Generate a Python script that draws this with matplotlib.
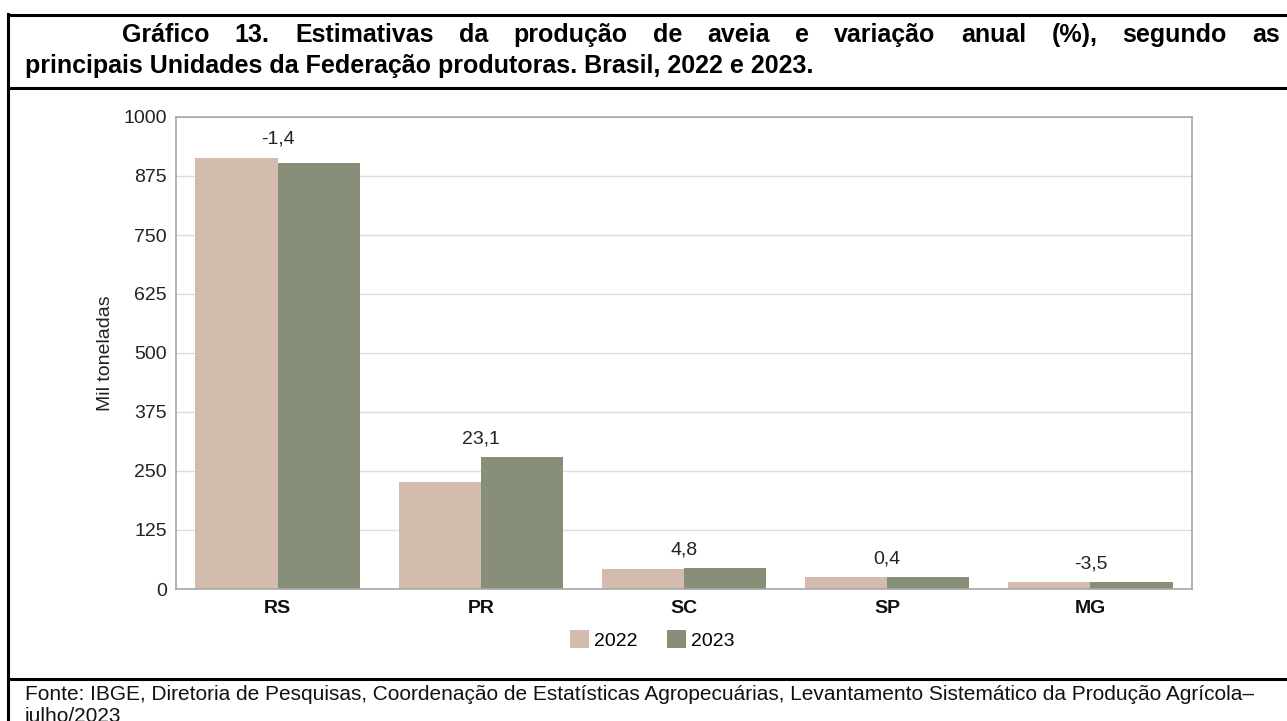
import matplotlib
matplotlib.use("Agg")
import matplotlib.pyplot as plt
from matplotlib.lines import Line2D
import numpy as np

categories = ["RS", "PR", "SC", "SP", "MG"]
prod_2022 = [914, 227, 42, 25, 15]
prod_2023 = [902, 279, 44, 25.1, 14.5]
variation = ["-1,4", "23,1", "4,8", "0,4", "-3,5"]
series_labels = ["2022", "2023"]
yticks = [0, 125, 250, 375, 500, 625, 750, 875, 1000]

title_line1 = "Gráfico 13. Estimativas da produção de aveia e variação anual (%), segundo as"
title_line2 = "principais Unidades da Federação produtoras. Brasil, 2022 e 2023."
footer_line1 = "Fonte: IBGE, Diretoria de Pesquisas, Coordenação de Estatísticas Agropecuárias, Levantamento Sistemático da Produção Agrícola–"
footer_line2 = "julho/2023"

c2022 = "#D3BCAE"
c2023 = "#888F78"

W, H = 1287, 721
plt.rcParams['font.family'] = ['Liberation Sans', 'DejaVu Sans']
fig = plt.figure(figsize=(W / 100, H / 100), dpi=100)


def fx(px):
    return px / W


def fy(py):
    return 1 - py / H


# Frame lines
lw = 2.2
for (x0, y0, x1, y1) in [(8, 15, 1287, 15), (8, 88, 1287, 88), (8, 679, 1287, 679),
                         (8, 14, 8, 721)]:
    fig.add_artist(Line2D([fx(x0), fx(x1)], [fy(y0), fy(y1)], color="black", lw=lw,
                          solid_capstyle="projecting", transform=fig.transFigure))

# Title line 1, justified between x_left and x_right
title_fs = 18
renderer = fig.canvas.get_renderer()
words = title_line1.split(" ")
x_left, x_right = 122, 1280
texts, widths = [], []
for w in words:
    t = fig.text(0, fy(42), w, fontsize=title_fs, fontweight="bold", va="baseline", ha="left")
    texts.append(t)
    widths.append(t.get_window_extent(renderer=renderer).width)
gap = (x_right - x_left - sum(widths)) / (len(words) - 1)
xpos = x_left
for t, wd in zip(texts, widths):
    t.set_x(fx(xpos))
    xpos += wd + gap

fig.text(fx(25), fy(73), title_line2, fontsize=title_fs, fontweight="bold",
         va="baseline", ha="left")

fig.text(fx(25), fy(700), footer_line1, fontsize=15, va="baseline", ha="left", color="#111111")
fig.text(fx(25), fy(722), footer_line2, fontsize=15, va="baseline", ha="left", color="#111111")

# Axes
ax = fig.add_axes([fx(176), fy(589), fx(1192) - fx(176), (589 - 117) / H])
x = np.arange(len(categories))
bw = 0.405
ax.bar(x - bw / 2, prod_2022, bw, color=c2022, label=series_labels[0], zorder=2)
ax.bar(x + bw / 2, prod_2023, bw, color=c2023, label=series_labels[1], zorder=2)
ax.set_xlim(-0.5, len(categories) - 0.5)
ax.set_ylim(0, 1000)
ax.set_yticks(yticks)
ax.set_yticklabels([str(v) for v in yticks], fontsize=14, color="#222222")
ax.set_xticks(x)
ax.set_xticklabels(categories, fontsize=14, fontweight="bold", color="#111111")
ax.tick_params(axis="y", length=0, pad=6.5)
ax.tick_params(axis="x", length=0, pad=8)
ax.yaxis.grid(True, color="#DDDDDD", lw=1, zorder=0)
for s in ax.spines.values():
    s.set_color("#A8A8A8")
    s.set_linewidth(1.2)
ax.set_ylabel("Mil toneladas", fontsize=14, color="#222222", labelpad=7)

for i, lab in enumerate(variation):
    top = max(prod_2022[i], prod_2023[i])
    ax.annotate(lab, (x[i], top), xytext=(0, 7), textcoords="offset points",
                ha="center", va="bottom", fontsize=14, color="#222222")

leg = fig.legend(*ax.get_legend_handles_labels(), loc="center",
                 bbox_to_anchor=(fx(652), fy(640)), ncol=2, frameon=False,
                 fontsize=14, handlelength=1.0, handleheight=1.0, columnspacing=1.5,
                 handletextpad=0.25, borderpad=0, borderaxespad=0)

fig.savefig("out.png", dpi=100)
